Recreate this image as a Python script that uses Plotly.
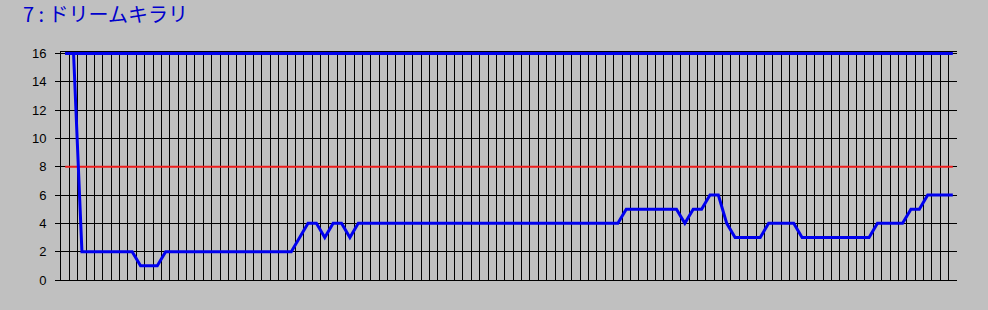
import plotly.graph_objects as go

title_text = "7 : ドリームキラリ"
categories = list(range(1, 108))
rank = [16, 16,
        2, 2, 2, 2, 2, 2, 2,
        1, 1, 1,
        2, 2, 2, 2, 2, 2, 2, 2, 2, 2, 2, 2, 2, 2, 2, 2,
        3, 4, 4, 3, 4, 4, 3,
        4, 4, 4, 4, 4, 4, 4, 4, 4, 4, 4, 4, 4, 4, 4, 4,
        4, 4, 4, 4, 4, 4, 4, 4, 4, 4, 4, 4, 4, 4, 4, 4,
        5, 5, 5, 5, 5, 5, 5,
        4, 5, 5, 6, 6, 4,
        3, 3, 3, 3,
        4, 4, 4, 4,
        3, 3, 3, 3, 3, 3, 3, 3, 3,
        4, 4, 4, 4,
        5, 5,
        6, 6, 6, 6]
runners = [16] * len(categories)
half_line = [8] * len(categories)
y_ticks = [0, 2, 4, 6, 8, 10, 12, 14, 16]

fig = go.Figure()
fig.add_trace(go.Scatter(x=categories, y=half_line, mode="lines",
                         line=dict(color="#ee1c1c", width=2), hoverinfo="skip"))
fig.add_trace(go.Scatter(x=categories, y=runners, mode="lines",
                         line=dict(color="#0000ee", width=3), hoverinfo="skip"))
fig.add_trace(go.Scatter(x=categories, y=rank, mode="lines",
                         line=dict(color="#0000ee", width=3), hoverinfo="skip"))

plot_top, plot_bottom, plot_left, plot_right = 51.6, 280, 61, 957
ph = plot_bottom - plot_top
pw = plot_right - plot_left

fig.update_layout(
    width=988, height=310,
    margin=dict(l=61, r=31, t=51.6, b=30),
    paper_bgcolor="#c0c0c0", plot_bgcolor="#c0c0c0",
    showlegend=False,
    font=dict(family="Liberation Sans, Arial, Noto Sans CJK JP", color="black", size=13),
    xaxis=dict(range=[0.5, 107.5], tick0=0.5, dtick=1, showticklabels=False,
               showgrid=True, gridcolor="black", gridwidth=1, zeroline=False,
               showline=True, linecolor="black", linewidth=1, mirror=True, ticks=""),
    yaxis=dict(range=[0, 16.1], tickvals=y_ticks, showgrid=True, gridcolor="black",
               gridwidth=1, zeroline=False, showline=True, linecolor="black", linewidth=1,
               ticks="outside", ticklen=5, tickcolor="black", ticklabelstandoff=6),
    annotations=[dict(text=title_text, xref="paper", yref="paper",
                      x=(21 - plot_left) / pw, y=(plot_bottom - 13) / ph,
                      xanchor="left", yanchor="middle", showarrow=False,
                      font=dict(family="Noto Sans CJK JP, Liberation Sans", size=20,
                                color="#0000cc"))],
)
fig.write_html("out.html")
